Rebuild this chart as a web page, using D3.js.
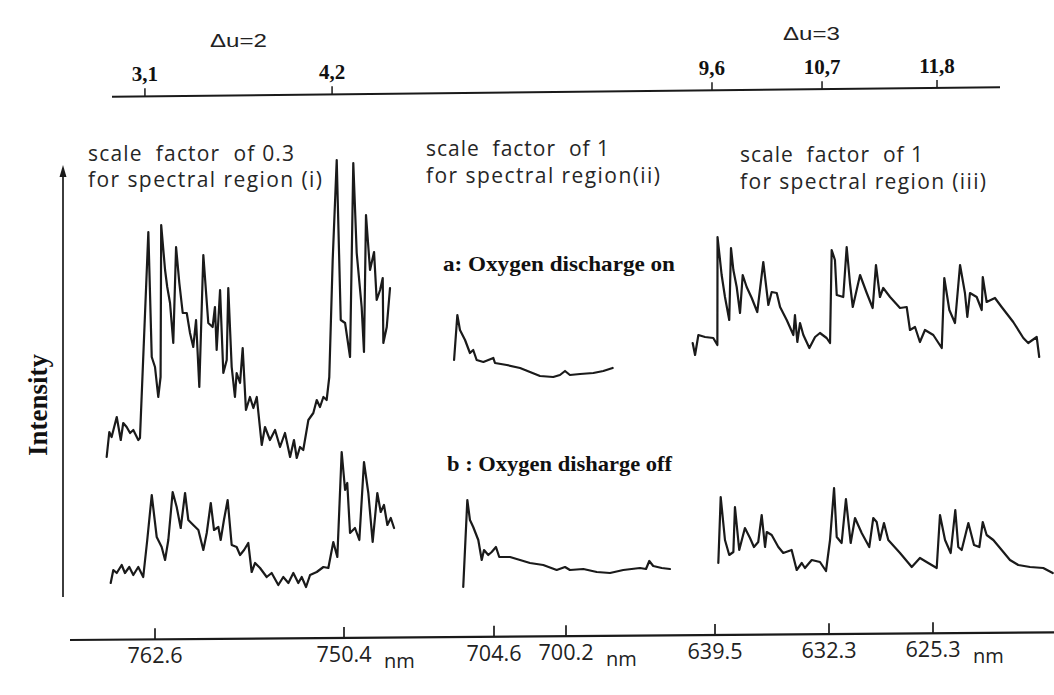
<!DOCTYPE html>
<html><head><meta charset="utf-8">
<script src="https://cdn.jsdelivr.net/npm/d3@7"></script>
<style>html,body{margin:0;padding:0;background:#fff}</style>
</head><body><svg id="c" width="1054" height="695"></svg>
<script>
// ---------- data: [wavelength nm, intensity (arb. units)] ----------
const traceAi = [[765.72,143],[765.55,168],[765.40,163],[765.07,183],[764.81,160],[764.65,177],[764.43,173],[764.21,167],[764.00,170],[763.68,160],[763.57,162],[763.03,368],[762.81,243],[762.60,233],[762.39,203],[762.24,223],[762.20,375],[761.95,330],[761.81,313],[761.63,297],[761.42,257],[761.24,353],[761.03,317],[760.81,287],[760.55,287],[760.34,267],[760.13,253],[759.95,280],[759.74,213],[759.48,345],[759.16,277],[758.88,273],[758.73,293],[758.62,250],[758.40,310],[758.19,227],[757.97,240],[757.87,312],[757.65,233],[757.44,203],[757.33,227],[757.11,217],[756.94,252],[756.73,190],[756.47,203],[756.25,192],[756.03,203],[755.71,155],[755.50,173],[755.18,160],[754.85,170],[754.53,153],[754.21,167],[753.88,143],[753.63,160],[753.45,142],[753.24,153],[753.03,150],[752.70,180],[752.38,187],[752.16,200],[751.95,193],[751.73,203],[751.52,200],[751.35,223],[751.13,340],[750.87,440],[750.61,280],[750.33,277],[750.01,243],[749.80,437],[749.58,347],[749.26,293],[749.11,248],[748.98,385],[748.72,330],[748.46,348],[748.29,300],[748.07,310],[747.90,322],[747.86,257],[747.64,273],[747.43,312]];
const traceBi = [[765.46,17],[765.29,30],[765.07,27],[764.75,35],[764.54,27],[764.26,33],[764.00,25],[763.68,33],[763.36,23],[763.10,60],[762.81,105],[762.49,63],[762.17,53],[761.95,40],[761.74,60],[761.46,108],[761.20,93],[760.94,72],[760.66,107],[760.45,80],[760.13,75],[759.80,70],[759.48,50],[759.26,67],[759.00,97],[758.79,70],[758.51,73],[758.36,60],[758.15,80],[757.91,100],[757.65,55],[757.33,53],[757.11,45],[756.85,50],[756.58,57],[756.36,28],[756.14,37],[755.82,32],[755.39,23],[755.07,27],[754.64,15],[754.32,23],[753.99,17],[753.67,27],[753.35,17],[753.13,23],[752.85,13],[752.59,25],[752.16,28],[751.73,33],[751.41,32],[751.09,58],[750.83,43],[750.55,148],[750.33,110],[750.19,117],[750.01,67],[749.69,72],[749.41,60],[749.11,138],[748.83,107],[748.55,58],[748.25,107],[748.03,88],[747.82,95],[747.60,75],[747.38,82],[747.17,72]];
const traceAii = [[707.04,240],[706.84,285],[706.68,270],[706.37,260],[706.07,247],[705.87,250],[705.66,240],[705.25,238],[704.64,242],[704.54,237],[703.82,235],[703.01,232],[702.40,228],[701.79,224],[700.98,223],[700.57,225],[700.26,229],[699.96,225],[699.34,226],[698.53,227],[697.92,229],[697.35,232]];
const traceBii = [[706.48,13],[706.23,100],[706.07,80],[705.87,73],[705.56,60],[705.35,40],[705.21,50],[704.95,45],[704.74,48],[704.48,53],[704.28,43],[703.62,43],[703.01,40],[702.40,37],[701.59,35],[700.77,30],[700.26,33],[699.96,30],[699.14,31],[698.32,28],[697.51,27],[696.70,30],[695.68,32],[695.31,31],[695.11,39],[694.87,34],[694.35,32],[693.85,31]];
const traceAiii = [[640.91,257],[640.76,245],[640.55,265],[640.13,263],[639.61,262],[639.35,255],[639.34,363],[639.08,325],[638.87,303],[638.60,280],[638.49,352],[638.34,330],[638.13,313],[637.92,287],[637.75,325],[637.50,313],[637.18,302],[636.83,288],[636.45,338],[636.13,295],[635.92,308],[635.60,307],[635.39,293],[634.97,280],[634.55,265],[634.45,285],[634.30,258],[634.13,277],[633.92,265],[633.54,252],[633.18,263],[632.87,267],[632.45,262],[632.23,257],[632.12,350],[631.90,340],[631.78,305],[631.34,303],[631.11,353],[630.89,317],[630.70,293],[630.21,325],[629.76,307],[629.36,292],[629.14,335],[628.87,303],[628.65,312],[628.19,303],[627.52,292],[627.07,293],[626.85,270],[626.51,273],[626.18,258],[625.84,270],[625.28,265],[624.71,252],[624.54,322],[624.20,290],[623.82,277],[623.48,335],[623.15,307],[622.99,283],[622.81,307],[622.36,303],[622.02,290],[621.95,323],[621.69,298],[621.13,302],[620.68,293],[619.90,278],[619.22,262],[618.89,257],[618.32,263],[618.15,243]];
const traceBiii = [[639.29,37],[639.14,103],[638.87,60],[638.60,45],[638.34,48],[638.24,93],[637.97,50],[637.61,72],[637.29,62],[637.04,53],[636.77,58],[636.55,85],[636.34,53],[636.23,68],[635.92,65],[635.50,53],[635.19,47],[634.66,50],[634.34,30],[634.02,37],[633.82,32],[633.39,40],[632.87,38],[632.49,29],[632.23,60],[631.96,112],[631.78,63],[631.45,57],[631.16,101],[630.84,57],[630.55,82],[630.10,67],[629.59,53],[629.32,82],[629.09,78],[628.87,60],[628.60,77],[628.31,60],[627.52,47],[626.73,33],[626.18,42],[625.62,37],[625.05,32],[624.83,85],[624.49,60],[624.11,47],[623.80,90],[623.60,53],[623.37,50],[622.92,77],[622.54,55],[622.18,53],[621.95,78],[621.69,65],[621.24,60],[620.79,52],[620.12,40],[619.56,35],[618.77,33],[617.88,32],[617.24,27]];

const bottomTicksI = [762.6, 750.4];
const bottomTicksII = [704.6, 700.2];
const bottomTicksIII = [639.5, 632.3, 625.3];
const bandLabels = ["3,1", "4,2", "9,6", "10,7", "11,8"];
const bandNm = [763.25, 751.17, 639.69, 632.74, 625.03];
const bandRegion = ["i", "i", "iii", "iii", "iii"];
const bandGroups = ["Δu=2", "Δu=3"];
const regionNotes = [["scale  factor  of 0.3", "for spectral region (i)"], ["scale  factor  of 1", "for spectral region(ii)"], ["scale  factor  of 1", "for spectral region (iii)"]];
const traceLabels = ["a: Oxygen discharge on", "b : Oxygen disharge off"];

// ---------- scales ----------
const xs = {
  i: d3.scaleLinear().domain([762.6, 750.4]).range([155, 344]),
  ii: d3.scaleLinear().domain([704.6, 700.2]).range([494, 566]),
  iii: d3.scaleLinear().domain([639.5, 632.3, 625.3]).range([715, 829, 933])
};
const y = d3.scaleLinear().domain([0, 440]).range([600, 160]);

const svg = d3.select('#c');
svg.append('rect').attr('width', 1054).attr('height', 695).attr('fill', '#fff');

const ink = '#1a1a1a';
const letterFont = "'Open Sans', 'DejaVu Sans', sans-serif";
const serif = "'Liberation Serif', 'DejaVu Serif', serif";

// ---------- traces ----------
const traces = [[traceAi, 'i'], [traceBi, 'i'], [traceAii, 'ii'], [traceBii, 'ii'], [traceAiii, 'iii'], [traceBiii, 'iii']];
traces.forEach(([data, r]) => {
  const line = d3.line().x(d => xs[r](d[0])).y(d => y(d[1]));
  svg.append('path').attr('d', line(data)).attr('fill', 'none')
    .attr('stroke', ink).attr('stroke-width', 2.2).attr('stroke-linejoin', 'round').attr('stroke-linecap', 'round');
});

// ---------- bottom wavelength axis (slightly tilted as in the scan) ----------
const botY = x => 640 - (x - 70) * 7.6 / 984;
svg.append('line').attr('x1', 70).attr('y1', botY(70)).attr('x2', 1054).attr('y2', botY(1054))
  .attr('stroke', ink).attr('stroke-width', 2.2);
const fmt = d3.format('.1f');
[[bottomTicksI, 'i'], [bottomTicksII, 'ii'], [bottomTicksIII, 'iii']].forEach(([ticks, r]) => {
  ticks.forEach((t, k) => {
    const x = xs[r](t);
    svg.append('line').attr('x1', x).attr('x2', x).attr('y1', botY(x)).attr('y2', botY(x) - 11)
      .attr('stroke', ink).attr('stroke-width', 1.7);
    svg.append('text').attr('x', x).attr('y', botY(x) + 24).attr('text-anchor', 'middle')
      .attr('font-family', letterFont).attr('font-size', 21).attr('fill', '#222')
      .attr('textLength', 55).attr('lengthAdjust', 'spacingAndGlyphs').text(fmt(t));
    if (k === ticks.length - 1) {
      svg.append('text').attr('x', x + 40).attr('y', botY(x) + 30)
        .attr('font-family', letterFont).attr('font-size', 20).attr('fill', '#222').text('nm');
    }
  });
});

// ---------- top band axis ----------
const topY = x => 96.7 - (x - 112) * 9.4 / 888;
svg.append('line').attr('x1', 112).attr('y1', topY(112)).attr('x2', 1000).attr('y2', topY(1000))
  .attr('stroke', ink).attr('stroke-width', 1.9);
bandLabels.forEach((lab, k) => {
  const x = xs[bandRegion[k]](bandNm[k]);
  svg.append('line').attr('x1', x).attr('x2', x).attr('y1', topY(x)).attr('y2', topY(x) - 8)
    .attr('stroke', ink).attr('stroke-width', 1.5);
  svg.append('text').attr('x', x).attr('y', topY(x) - 15).attr('text-anchor', 'middle')
    .attr('font-family', serif).attr('font-weight', 'bold').attr('font-size', 21).attr('fill', '#111').text(lab);
});
svg.append('text').attr('x', 210).attr('y', 46.7).attr('font-family', "'Liberation Sans', sans-serif")
  .attr('font-size', 19).attr('fill', '#222').attr('textLength', 57).attr('lengthAdjust', 'spacingAndGlyphs').text(bandGroups[0]);
svg.append('text').attr('x', 783).attr('y', 40).attr('font-family', "'Liberation Sans', sans-serif")
  .attr('font-size', 19).attr('fill', '#222').attr('textLength', 57).attr('lengthAdjust', 'spacingAndGlyphs').text(bandGroups[1]);

// ---------- intensity arrow ----------
svg.append('line').attr('x1', 63).attr('x2', 63).attr('y1', 597).attr('y2', 172)
  .attr('stroke', ink).attr('stroke-width', 1.7);
svg.append('path').attr('d', 'M63,165 L59.5,177 L66.5,177 Z').attr('fill', ink);
svg.append('text').attr('transform', 'translate(47,405) rotate(-90)').attr('text-anchor', 'middle')
  .attr('font-family', serif).attr('font-weight', 'bold').attr('font-size', 27).attr('fill', '#111').text('Intensity');

// ---------- region notes ----------
const notePos = [[88, 161, 206, 187, 234], [426, 156, 183, 183, 234], [740, 162, 183, 189, 246]];
regionNotes.forEach((lines, k) => {
  const p = notePos[k];
  svg.append('text').attr('x', p[0]).attr('y', p[1]).attr('font-family', letterFont).attr('font-size', 21)
    .attr('fill', '#262626').attr('textLength', p[2]).attr('lengthAdjust', 'spacing').attr('xml:space', 'preserve').text(lines[0]);
  svg.append('text').attr('x', p[0]).attr('y', p[3]).attr('font-family', letterFont).attr('font-size', 21)
    .attr('fill', '#262626').attr('textLength', p[4]).attr('lengthAdjust', 'spacing').text(lines[1]);
});

// ---------- trace labels ----------
svg.append('text').attr('x', 443).attr('y', 271).attr('font-family', serif).attr('font-weight', 'bold')
  .attr('font-size', 22).attr('fill', '#111').attr('textLength', 232).attr('lengthAdjust', 'spacingAndGlyphs').text(traceLabels[0]);
svg.append('text').attr('x', 447).attr('y', 471).attr('font-family', serif).attr('font-weight', 'bold')
  .attr('font-size', 22).attr('fill', '#111').attr('textLength', 225).attr('lengthAdjust', 'spacingAndGlyphs').text(traceLabels[1]);
</script></body></html>
